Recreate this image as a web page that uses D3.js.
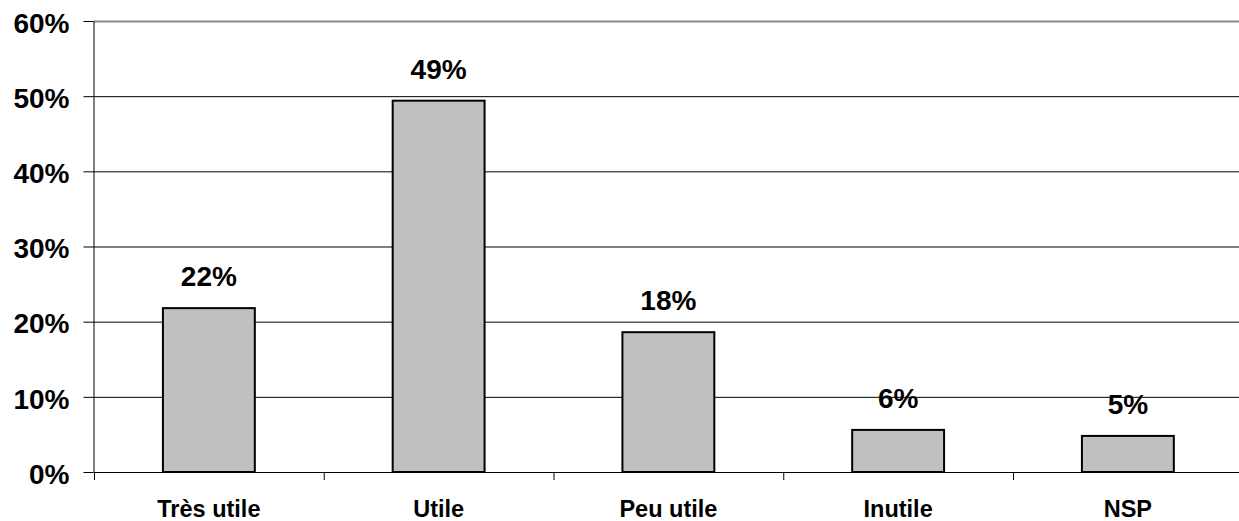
<!DOCTYPE html>
<html lang="fr">
<head>
<meta charset="utf-8">
<style>
  body { margin: 0; background: white; }
  svg { font-family: 'Liberation Sans', Arial, sans-serif; font-weight: bold; }
  .grid line { stroke: #000; stroke-width: 1px; }
  .grid .domain { display: none; }
  .axis text { fill: #000; }
  .axis line, .axis path { stroke: #000; stroke-width: 1px; }
  .bar { fill: #c0c0c0; stroke: #000; stroke-width: 2px; }
</style>
</head>
<body>
<svg width="1239" height="521"></svg>
<script src="https://d3js.org/d3.v7.min.js"></script>
<script>
const categories = ["Très utile", "Utile", "Peu utile", "Inutile", "NSP"];
const values = [0.218, 0.494, 0.186, 0.056, 0.048];
const valueLabels = ["22%", "49%", "18%", "6%", "5%"];
const yTicks = [0, 0.1, 0.2, 0.3, 0.4, 0.5, 0.6];

const width = 1239, height = 521;
const margin = { top: 21, bottom: 49, left: 93.5 };
const step = 229.75;

const svg = d3.select("svg");

const x = d3.scaleBand()
  .domain(categories)
  .range([94, 94 + step * categories.length])
  .padding(0);

const y = d3.scaleLinear()
  .domain([0, 0.6])
  .range([height - margin.bottom, margin.top]);

// gridlines
svg.append("g")
  .attr("class", "grid")
  .attr("transform", "translate(" + margin.left + ",0)")
  .call(d3.axisRight(y).tickValues(yTicks.slice(1)).tickSize(width - margin.left).tickFormat(""))
  .selectAll("line")
  .filter(d => d === 0.6)
  .style("stroke", "#888")
  .style("stroke-width", "2px");

// bars
const barW = x.bandwidth() * 0.4;
svg.append("g")
  .selectAll("rect")
  .data(values)
  .join("rect")
  .attr("class", "bar")
  .attr("x", (d, i) => x(categories[i]) + x.bandwidth() / 2 - barW / 2)
  .attr("y", d => y(d))
  .attr("width", barW)
  .attr("height", d => y(0) - y(d));

// value labels
svg.append("g")
  .selectAll("text")
  .data(values)
  .join("text")
  .attr("x", (d, i) => x(categories[i]) + x.bandwidth() / 2)
  .attr("y", d => y(d) - 22)
  .attr("text-anchor", "middle")
  .style("font-size", "28px")
  .text((d, i) => valueLabels[i]);

// y axis
const yAxis = svg.append("g")
  .attr("class", "axis y")
  .attr("transform", "translate(" + margin.left + ",0)")
  .call(d3.axisLeft(y).tickValues(yTicks).tickSize(10).tickSizeOuter(0).tickPadding(14).tickFormat(d3.format(".0%")));
yAxis.selectAll("text").style("font-size", "28px").attr("dy", "0.4em");

// x axis
const xAxisY = y(0);
const xa = svg.append("g")
  .attr("class", "axis x")
  .attr("transform", "translate(0," + xAxisY + ")");
xa.append("line")
  .attr("x1", margin.left).attr("x2", width)
  .attr("y1", 0.5).attr("y2", 0.5);
xa.selectAll("line.tick")
  .data(categories)
  .join("line")
  .attr("class", "tick")
  .attr("x1", d => x(d) + 0.5).attr("x2", d => x(d) + 0.5)
  .attr("y1", 0).attr("y2", 8);
xa.selectAll("text")
  .data(categories)
  .join("text")
  .attr("x", d => x(d) + x.bandwidth() / 2)
  .attr("y", 45)
  .attr("text-anchor", "middle")
  .style("font-size", "23.5px")
  .text(d => d);
</script>
</body>
</html>
